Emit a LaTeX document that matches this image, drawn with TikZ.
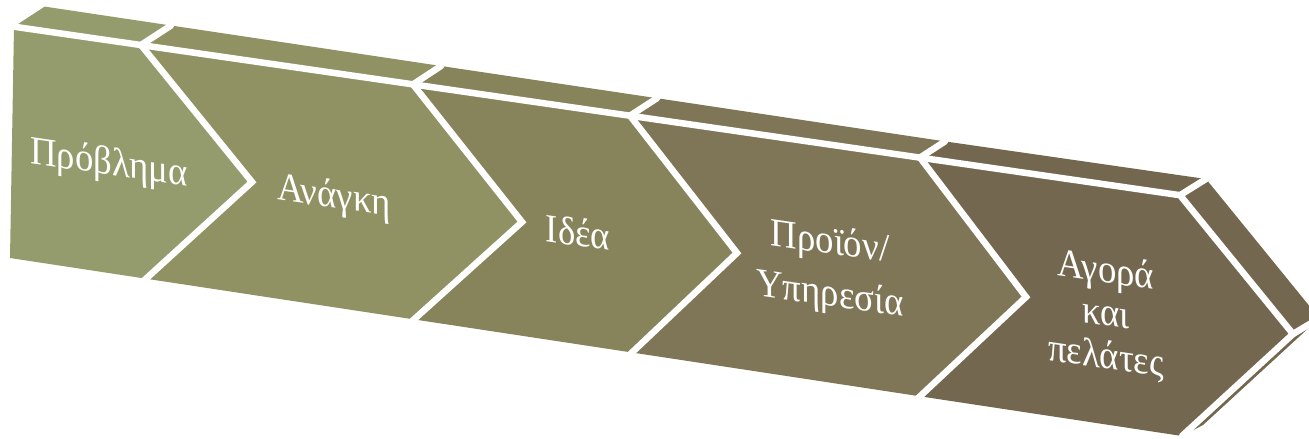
\documentclass[tikz,border=0pt]{standalone}
\usepackage{fontspec}
\setmainfont{Liberation Serif}
\definecolor{cA}{HTML}{949B6D}
\definecolor{cB}{HTML}{909263}
\definecolor{cC}{HTML}{87845C}
\definecolor{cD}{HTML}{7F7657}
\definecolor{cE}{HTML}{73684F}
\tikzset{
  sep/.style={draw=white, line width=6.5pt, line cap=round, line join=miter},
  lbl/.style={text=white, font=\fontsize{40}{47}\selectfont, align=center, yslant=-0.145, xscale=0.92, inner sep=0pt}
}
\begin{document}
\begin{tikzpicture}[x=1pt,y=-1pt]
\path[use as bounding box] (0,0) rectangle (1309,439);
\clip (0,0) rectangle (1309,439);
% geometry
\coordinate (L0) at (14,26.7);
\coordinate (L1) at (10,258);
\coordinate (Q0) at (44.7,6.6);
\coordinate (N1) at (141,45);     \coordinate (T1) at (252,182);  \coordinate (M1) at (146,278.7); \coordinate (Q1) at (171,25.5);
\coordinate (N2) at (413,84.4);   \coordinate (T2) at (522,222);  \coordinate (M2) at (414,319.4); \coordinate (Q2) at (441,66);
\coordinate (N3) at (630,115.7);  \coordinate (T3) at (737,253);  \coordinate (M3) at (632,352.5); \coordinate (Q3) at (657,98.2);
\coordinate (N4) at (920,157.6);  \coordinate (T4) at (1026,297); \coordinate (M4) at (920,396.3); \coordinate (Q4) at (945,141.4);
\coordinate (N5) at (1180,195.2); \coordinate (T5) at (1293,334); \coordinate (M5) at (1182,436); \coordinate (Q5) at (1206,179);
\coordinate (T6) at (1319.3,318.2); \coordinate (M6) at (1203,425);
% faces
\fill[cA] (L0)--(N1)--(T1)--(M1)--(L1)--cycle;
\fill[cA] (Q0)--(L0)--(N1)--(Q1)--cycle;
\fill[cB] (N1)--(N2)--(T2)--(M2)--(M1)--(T1)--cycle;
\fill[cB] (Q1)--(N1)--(N2)--(Q2)--cycle;
\fill[cC] (N2)--(N3)--(T3)--(M3)--(M2)--(T2)--cycle;
\fill[cC] (Q2)--(N2)--(N3)--(Q3)--cycle;
\fill[cD] (N3)--(N4)--(T4)--(M4)--(M3)--(T3)--cycle;
\fill[cD] (Q3)--(N3)--(N4)--(Q4)--cycle;
\fill[cE] (N4)--(N5)--(T5)--(M5)--(M4)--(T4)--cycle;
\fill[cE] (Q4)--(N4)--(N5)--(Q5)--cycle;
\fill[cE] (N5)--(Q5)--(T6)--(T5)--cycle;
\fill[cE] (T5)--(T6)--(M6)--(M5)--cycle;
% white separators
\draw[sep] (L0)--(N5)--(T5)--(M5);
\draw[sep, shorten >=-6pt] (N1)--(T1)--(M1);
\draw[sep, shorten >=-6pt] (N2)--(T2)--(M2);
\draw[sep, shorten >=-6pt] (N3)--(T3)--(M3);
\draw[sep, shorten >=-6pt] (N4)--(T4)--(M4);
\draw[sep] (N1)--(Q1);
\draw[sep] (N2)--(Q2);
\draw[sep] (N3)--(Q3);
\draw[sep] (N4)--(Q4);
\draw[sep] (N5)--(Q5);
\draw[sep] (T5)--(T6);
% labels
\node[lbl] (t1) at (109,165) {Πρόβλημα};
\node[lbl] (t2) at (334,198) {Ανάγκη};
\node[lbl] (t3) at (578,232) {Ιδέα};
\node[lbl, font=\fontsize{40}{52}\selectfont] (t4) at (830,270) {Προϊόν/\\Υπηρεσία};
\node[lbl, font=\fontsize{40}{43}\selectfont] (t5) at (1106,315) {Αγορά\\και\\πελάτες};
\end{tikzpicture}
\end{document}
